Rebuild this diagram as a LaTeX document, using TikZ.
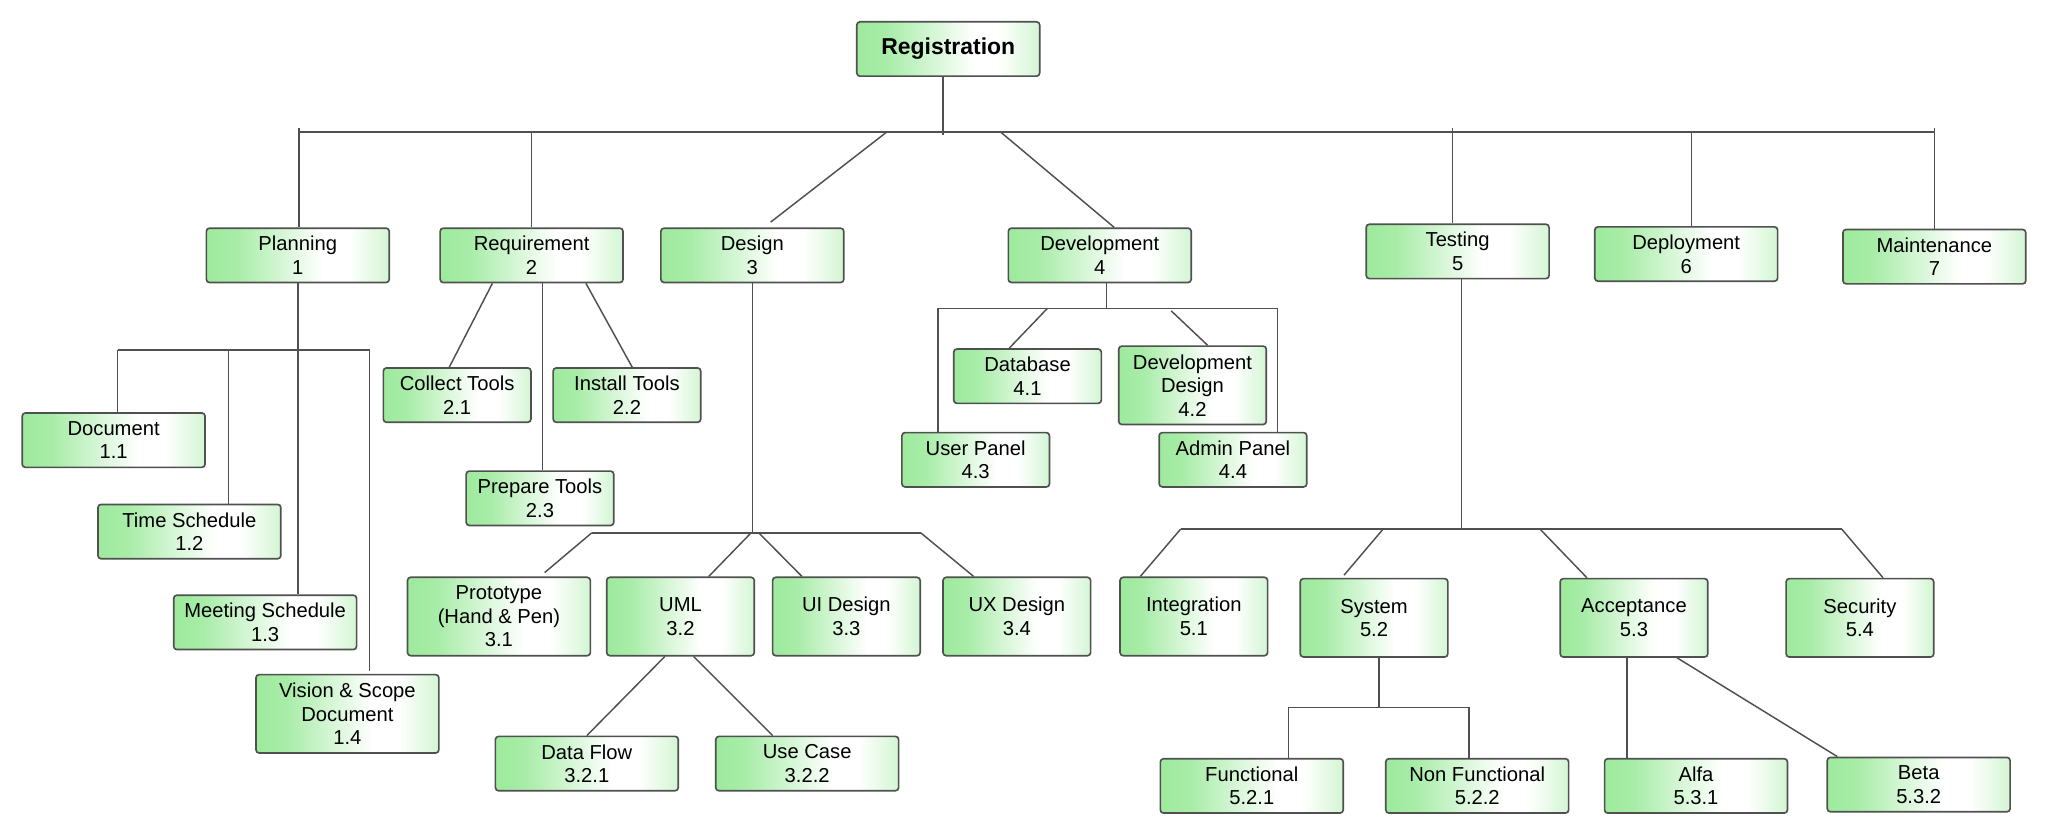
\documentclass[tikz,border=0pt]{standalone}
\usepackage{fontspec}
\setmainfont{Liberation Sans}
\usetikzlibrary{calc}
\definecolor{boxgreen}{RGB}{158,234,158}
\definecolor{edgegray}{RGB}{80,80,80}
\pgfdeclarehorizontalshading{greenbox}{100bp}{color(0bp)=(boxgreen); color(25bp)=(boxgreen);
  color(33bp)=(boxgreen!90); color(57bp)=(white); color(64bp)=(white);
  color(75bp)=(boxgreen!45); color(100bp)=(boxgreen!45)}
\tikzset{
  task/.style={draw=edgegray, line width=0.9pt, rounded corners=0.6mm,
    shade, shading=greenbox, minimum width=35mm,
    minimum height=10.4mm, align=center, inner sep=0pt,
    font=\fontsize{11}{12.8}\selectfont},
  narrow/.style={minimum width=28.25mm},
  tall/.style={minimum height=15mm},
  link/.style={draw=edgegray, line width=0.8pt}
}

\begin{document}
\begin{tikzpicture}[x=0.25mm, y=-0.25mm]
  \useasboundingbox (0,0) rectangle (1568,639.3);
  % Root and first level
  \node[task, font=\fontsize{12.5}{14}\selectfont\bfseries] (reg) at (726,37.5) {Registration};
  \node[task] (plan) at (228,195.5) {Planning\\1};
  \node[task] (req) at (407,195.5) {Requirement\\2};
  \node[task] (des) at (576,195.5) {Design\\3};
  \node[task] (dev) at (842,195.5) {Development\\4};
  \node[task] (test) at (1116,192.5) {Testing\\5};
  \node[task] (depl) at (1291,194.5) {Deployment\\6};
  \node[task] (mnt) at (1481,196.5) {Maintenance\\7};
  % Planning
  \node[task] (doc) at (87,337) {Document\\1.1};
  \node[task] (time) at (145,407) {Time Schedule\\1.2};
  \node[task] (meet) at (203,476.5) {Meeting Schedule\\1.3};
  \node[task, tall] (vis) at (266,546.5) {Vision \& Scope\\Document\\1.4};
  % Requirement
  \node[task, narrow] (coll) at (350,302.5) {Collect Tools\\2.1};
  \node[task, narrow] (inst) at (480,302.5) {Install Tools\\2.2};
  \node[task, narrow] (prep) at (413.4,381.5) {Prepare Tools\\2.3};
  % Design
  \node[task, tall] (proto) at (382,472) {Prototype\\(Hand \& Pen)\\3.1};
  \node[task, narrow, tall] (uml) at (521,472) {UML\\3.2};
  \node[task, narrow, tall] (ui) at (648,472) {UI Design\\3.3};
  \node[task, narrow, tall] (ux) at (778.5,472) {UX Design\\3.4};
  \node[task] (dflow) at (449.3,584.6) {Data Flow\\3.2.1};
  \node[task] (ucase) at (618,584.6) {Use Case\\3.2.2};
  % Development
  \node[task, narrow] (db) at (786.7,288) {Database\\4.1};
  \node[task, narrow, tall] (ddes) at (913,295) {Development\\Design\\4.2};
  \node[task, narrow] (upan) at (747,352) {User Panel\\4.3};
  \node[task, narrow] (apan) at (944,352) {Admin Panel\\4.4};
  % Testing
  \node[task, narrow, tall] (integ) at (914,472) {Integration\\5.1};
  \node[task, narrow, tall] (sys) at (1052,473) {System\\5.2};
  \node[task, narrow, tall] (acc) at (1251,473) {Acceptance\\5.3};
  \node[task, narrow, tall] (sec) at (1424,473) {Security\\5.4};
  \node[task] (func) at (958.4,601.7) {Functional\\5.2.1};
  \node[task] (nfunc) at (1131,601.7) {Non Functional\\5.2.2};
  \node[task] (alfa) at (1298.5,601.7) {Alfa\\5.3.1};
  \node[task] (beta) at (1469,600.7) {Beta\\5.3.2};

  % Bus junctions
  \coordinate (topL) at (229,101);
  \coordinate (topR) at (1481,101);
  \coordinate (planL) at (90,268);
  \coordinate (planR) at (283,268);
  \coordinate (desL) at (453,408);
  \coordinate (desR) at (705,408);
  \coordinate (devL) at (718,236);
  \coordinate (devR) at (978,236);
  \coordinate (testL) at (904,405);
  \coordinate (testR) at (1410,405);
  \coordinate (sysL) at (986.6,541.6);
  \coordinate (sysR) at (1124.7,541.6);

  % Top level links
  \draw[link] (topL) -- (topR);
  \draw[link] ($(reg.south)+(-4,0)$) -- ($(reg.south |- topL)+(-4,2)$);
  \draw[link] ($(topL)+(0,-3)$) -- (topL |- plan.north);
  \draw[link] (req.north |- topL) -- (req.north);
  \draw[link] ($(reg.south |- topL)+(-47,0)$) -- ($(des.north)+(14,-4)$);
  \draw[link] ($(reg.south |- topL)+(40,0)$) -- ($(dev.north)+(11,0)$);
  \draw[link] ($(test.north |- topL)+(-4,-3)$) -- ($(test.north)+(-4,0)$);
  \draw[link] ($(depl.north |- topL)+(4,0)$) -- ($(depl.north)+(4,0)$);
  \draw[link] ($(topR)+(0,-3)$) -- (topR |- mnt.north);

  % Planning links
  \draw[link] (plan.south) -- (plan.south |- meet.north);
  \draw[link] (planL) -- (planR);
  \draw[link] (planL) -- (planL |- doc.north);
  \draw[link] (planL -| time.north) ++(30,0) -- ($(time.north)+(30,0)$);
  \draw[link] (planR) -- ($(planR |- vis.north)+(0,-2)$);

  % Requirement links
  \draw[link] ($(req.south)+(-30,0)$) -- ($(coll.north)+(-6,0)$);
  \draw[link] ($(req.south)+(41.6,0)$) -- ($(inst.north)+(4,0)$);
  \draw[link] ($(req.south -| prep.north)+(2,0)$) -- ($(prep.north)+(2,0)$);

  % Design links
  \draw[link] (des.south) -- (des.south |- desL);
  \draw[link] (desL) -- (desR);
  \draw[link] (desL) -- ($(proto.north)+(35,-3)$);
  \draw[link] ($(des.south |- desL)+(-1,0)$) -- ($(uml.north)+(21.6,0)$);
  \draw[link] ($(des.south |- desL)+(5,0)$) -- ($(ui.north)+(-34,0)$);
  \draw[link] (desR) -- ($(ux.north)+(-33,0)$);
  \draw[link] ($(uml.south)+(-12,0)$) -- (dflow.north);
  \draw[link] ($(uml.south)+(10,0)$) -- ($(ucase.north)+(-26.4,0)$);

  % Development links
  \draw[link] ($(dev.south)+(5,0)$) -- ($(dev.south |- devL)+(5,0)$);
  \draw[link] (devL) -- (devR);
  \draw[link] (devL) -- (devL |- upan.north);
  \draw[link] (devR) -- (devR |- apan.north);
  \draw[link] ($(dev.south |- devL)+(-40,0)$) -- ($(db.north)+(-14,0)$);
  \draw[link] ($(dev.south |- devL)+(54.7,2)$) -- ($(ddes.north)+(11.6,0)$);

  % Testing links
  \draw[link] ($(test.south)+(3,0)$) -- ($(test.south |- testL)+(3,0)$);
  \draw[link] (testL) -- (testR);
  \draw[link] (testL) -- ($(integ.north)+(-41,0)$);
  \draw[link] ($(test.south |- testL)+(-57,0)$) -- ($(sys.north)+(-23,-2)$);
  \draw[link] ($(test.south |- testL)+(63,0)$) -- ($(acc.north)+(-36,0)$);
  \draw[link] (testR) -- ($(sec.north)+(17.7,0)$);
  \draw[link] ($(sys.south)+(3.7,0)$) -- ($(sys.south |- sysL)+(3.7,0)$);
  \draw[link] (sysL) -- (sysR);
  \draw[link] (sysL) -- (sysL |- func.north);
  \draw[link] (sysR) -- (sysR |- nfunc.north);
  \draw[link] ($(acc.south)+(-5.3,0)$) -- ($(acc.south |- alfa.north)+(-5.3,0)$);
  \draw[link] ($(acc.south)+(33,0)$) -- ($(beta.north)+(-62.3,0)$);
\end{tikzpicture}
\end{document}
